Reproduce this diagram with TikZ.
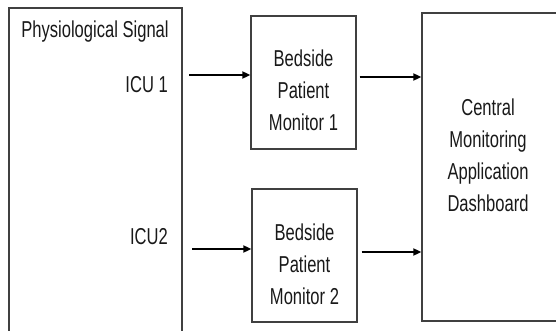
\documentclass[tikz,border=0pt]{standalone}
\usepackage{fontspec}
\setmainfont{Liberation Sans}[FakeStretch=0.72]
\usetikzlibrary{arrows.meta}
\begin{document}
\begin{tikzpicture}[x=1pt,y=-1pt,
  box/.style={draw=black!75, line width=1.3pt, inner sep=0pt},
  txt/.style={font=\fontsize{23}{32}\selectfont, text=black!90, align=center, inner sep=0pt},
  arr/.style={line width=1.8pt, -{Triangle[length=8pt,width=7pt]}}]
\useasboundingbox (0,0) rectangle (556,331);
% source panel, open at the bottom edge
\node[box, minimum width=173pt, minimum height=340pt] (sig) at (95.5,178) {};
\node[txt] (sigt) at (95,32) {Physiological Signal};
\node[txt, anchor=east] (icu1) at (168,85) {ICU 1};
\node[txt, anchor=east] (icu2) at (168,237) {ICU2};
% bedside monitors
\node[box, minimum width=105pt, minimum height=133pt] (m1) at (303.5,82.5) {};
\node[txt] (m1t) at ([yshift=-7.5pt]m1.center) {Bedside\\Patient\\Monitor 1};
\node[box, minimum width=105pt, minimum height=133pt] (m2) at (304.5,255.5) {};
\node[txt] (m2t) at ([yshift=-8.5pt]m2.center) {Bedside\\Patient\\Monitor 2};
% central dashboard, running off the right edge
\node[box, minimum width=180pt, minimum height=308pt] (cen) at (512,167) {};
\node[txt] (cent) at (488,155) {Central\\Monitoring\\Application\\Dashboard};
% signal flow
\coordinate (in1) at (189,75);
\coordinate (in2) at (192,249);
\draw[arr] (in1) -- (in1 -| m1.west);
\draw[arr] (in2) -- (in2 -| m2.west);
\draw[arr] ([xshift=3pt]m1.east |- 0,77) -- (cen.west |- 0,77);
\draw[arr] ([xshift=4pt]m2.east |- 0,252) -- (cen.west |- 0,252);
\end{tikzpicture}
\end{document}
